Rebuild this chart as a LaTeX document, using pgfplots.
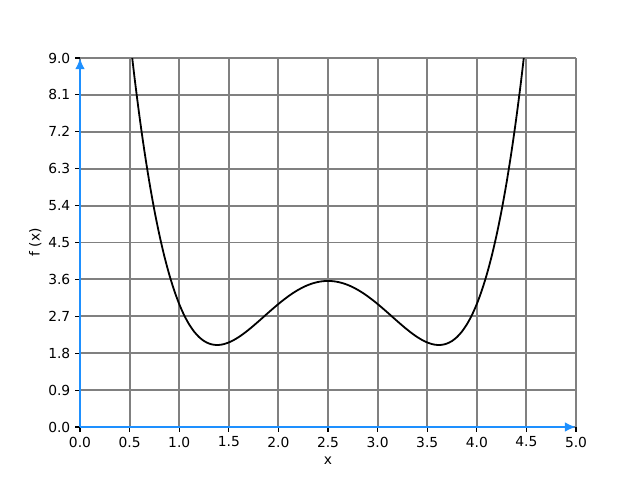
\documentclass[border=0pt]{standalone}
\usepackage{pgfplots}
\pgfplotsset{compat=1.18}
\usepackage{fontspec}
\setmainfont{DejaVu Sans}
\usetikzlibrary{arrows.meta}
\definecolor{spineblue}{HTML}{1E90FF}
\begin{document}
\begin{tikzpicture}[font=\fontsize{10}{12}\selectfont]
\path (0,0) rectangle (6.4in,4.8in);
\begin{axis}[
  at={(0.8in,0.53in)}, anchor=south west,
  scale only axis, width=4.96in, height=3.69in,
  xmin=0, xmax=5, ymin=0, ymax=9,
  axis x line=bottom, axis y line=left,
  axis line style={draw=spineblue, line width=2pt},
  x axis line style={-{Latex[length=8pt,width=7pt]}, line width=2pt, draw=spineblue},
  y axis line style={-{Latex[length=8pt,width=7pt]}, line width=2pt, draw=spineblue},
  xtick={0,0.5,...,5.0}, ytick={0,0.9,1.8,2.7,3.6,4.5,5.4,6.3,7.2,8.1,9.0},
  xticklabel style={/pgf/number format/.cd, fixed, fixed zerofill, precision=1},
  yticklabel style={/pgf/number format/.cd, fixed, fixed zerofill, precision=1},
  /pgf/number format/assume math mode=true,
  tick align=outside, major tick length=3.5pt,
  tick style={black, line width=0.8pt},
  grid=major, major grid style={color=gray, line width=1.4pt},
  xlabel={x}, ylabel={f (x)},
  ylabel style={yshift=-2pt},
  clip=true,
]
\addplot[black, line width=1.3pt, smooth] coordinates {
(0.50,9.5625)(0.55,8.51526)(0.60,7.5696)(0.65,6.71976)(0.70,5.9601)(0.75,5.28516)
(0.80,4.6896)(0.85,4.16826)(0.90,3.7161)(0.95,3.32826)(1.00,3.0)(1.05,2.72676)
(1.10,2.5041)(1.15,2.32776)(1.20,2.1936)(1.25,2.09766)(1.30,2.0361)(1.35,2.00526)
(1.40,2.0016)(1.45,2.02176)(1.50,2.0625)(1.55,2.12076)(1.60,2.1936)(1.65,2.27826)
(1.70,2.3721)(1.75,2.47266)(1.80,2.5776)(1.85,2.68476)(1.90,2.7921)(1.95,2.89776)
(2.00,3.0)(2.05,3.09726)(2.10,3.1881)(2.15,3.27126)(2.20,3.3456)(2.25,3.41016)
(2.30,3.4641)(2.35,3.50676)(2.40,3.5376)(2.45,3.55626)(2.50,3.5625)
(2.55,3.55626)(2.60,3.5376)(2.65,3.50676)(2.70,3.4641)(2.75,3.41016)(2.80,3.3456)
(2.85,3.27126)(2.90,3.1881)(2.95,3.09726)(3.00,3.0)(3.05,2.89776)(3.10,2.7921)
(3.15,2.68476)(3.20,2.5776)(3.25,2.47266)(3.30,2.3721)(3.35,2.27826)(3.40,2.1936)
(3.45,2.12076)(3.50,2.0625)(3.55,2.02176)(3.60,2.0016)(3.65,2.00526)(3.70,2.0361)
(3.75,2.09766)(3.80,2.1936)(3.85,2.32776)(3.90,2.5041)(3.95,2.72676)(4.00,3.0)
(4.05,3.32826)(4.10,3.7161)(4.15,4.16826)(4.20,4.6896)(4.25,5.28516)(4.30,5.9601)
(4.35,6.71976)(4.40,7.5696)(4.45,8.51526)(4.50,9.5625)
};
\end{axis}
\end{tikzpicture}
\end{document}
